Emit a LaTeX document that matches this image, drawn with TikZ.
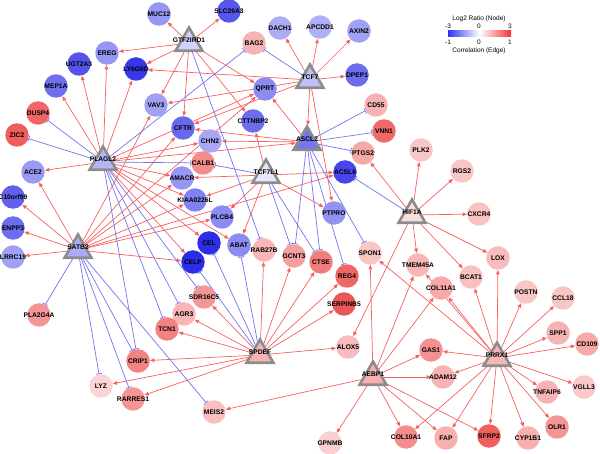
\documentclass[tikz,border=0pt]{standalone}
\usepackage{fontspec}
\setmainfont{Liberation Sans}
\usetikzlibrary{shapes.geometric,arrows.meta}
\pgfdeclarelayer{bg}
\pgfsetlayers{bg,main}
\definecolor{nb}{RGB}{45,45,232}
\definecolor{nr}{RGB}{236,64,64}
\definecolor{edred}{RGB}{248,95,95}
\definecolor{edblue}{RGB}{115,115,238}
\definecolor{hubgray}{RGB}{140,140,140}
\definecolor{lgb}{RGB}{50,50,240}
\definecolor{lgr}{RGB}{245,50,50}
\tikzset{
  gene/.style={circle,minimum size=23.5pt,inner sep=0pt,draw=none},
  hub/.style={regular polygon,regular polygon sides=3,minimum size=31pt,inner sep=0pt,draw=hubgray,line width=2.6pt},
  lbl/.style={font=\fontsize{6.7}{7}\selectfont\bfseries,text=black,inner sep=0pt},
  legt/.style={font=\fontsize{6.5}{7}\selectfont,text=black,inner sep=0pt},
  actline/.style={draw=edred,line width=0.7pt,-{Triangle[length=4.5pt,width=3.6pt]}},
  inhline/.style={draw=edblue,line width=0.7pt,-{Bar[width=6pt]}},
}
\newcommand\mkgene[4]{\node[gene,fill=#4,label={[lbl]center:#1}] (#1) at (#2,#3) {};}
\newcommand\mkhub[4]{\node[hub,fill=#4,label={[lbl,yshift=2.5pt]center:#1}] (#1) at (#2,#3) {};}
\begin{document}
\begin{tikzpicture}[x=1pt,y=-1pt]
\useasboundingbox (0,0) rectangle (600,454);
% genes
\mkgene{MUC12}{159}{14}{nb!50!white}
\mkgene{SLC26A3}{229}{11}{nb!80!white}
\mkgene{DACH1}{280}{28}{nb!40!white}
\mkgene{APCDD1}{320}{27}{nb!38!white}
\mkgene{AXIN2}{359}{31}{nb!45!white}
\mkgene{BAG2}{254}{43}{nr!40!white}
\mkgene{EREG}{107}{53}{nb!50!white}
\mkgene{UGT2A3}{79}{64}{nb!82!white}
\mkgene{LY6G6D}{136}{69}{nb!95!white}
\mkgene{MEP1A}{56}{86}{nb!68!white}
\mkgene{DPEP1}{357}{75}{nb!70!white}
\mkgene{QPRT}{265}{89}{nb!55!white}
\mkgene{VAV3}{156}{105}{nb!45!white}
\mkgene{DUSP4}{38}{113}{nr!80!white}
\mkgene{CD55}{376}{105}{nr!40!white}
\mkgene{ZIC2}{17}{135}{nr!85!white}
\mkgene{CFTR}{183}{128}{nb!72!white}
\mkgene{CTTNBP2}{253}{121}{nb!70!white}
\mkgene{VNN1}{384}{131}{nr!78!white}
\mkgene{CHN2}{210}{141}{nb!42!white}
\mkgene{PTGS2}{363}{153}{nr!45!white}
\mkgene{PLK2}{421}{150}{nr!30!white}
\mkgene{ACE2}{33}{172}{nb!48!white}
\mkgene{CALB1}{203}{163}{nr!60!white}
\mkgene{AMACR}{182}{178}{nb!50!white}
\mkgene{RGS2}{462}{171}{nr!30!white}
\mkgene{ACSL6}{345}{172}{nb!88!white}
\mkgene{KIAA0226L}{195}{200}{nb!60!white}
\mkgene{C10orf99}{13}{197}{nb!75!white}
\mkgene{CXCR4}{479}{214}{nr!32!white}
\mkgene{ENPP3}{13}{228}{nb!70!white}
\mkgene{PLCB4}{222}{217}{nb!55!white}
\mkgene{PTPRO}{334}{213}{nb!52!white}
\mkgene{CEL}{209}{243}{nb}
\mkgene{ABAT}{239}{245}{nb!55!white}
\mkgene{LRRC19}{13}{257}{nb!45!white}
\mkgene{CELP}{193}{262}{nb}
\mkgene{RAB27B}{264}{250}{nr!38!white}
\mkgene{GCNT3}{294}{256}{nr!50!white}
\mkgene{CTSE}{321}{262}{nr!68!white}
\mkgene{SPON1}{370}{253}{nr!30!white}
\mkgene{LOX}{498}{258}{nr!35!white}
\mkgene{TMEM45A}{418}{265}{nr!38!white}
\mkgene{REG4}{347}{276}{nr!80!white}
\mkgene{BCAT1}{471}{277}{nr!33!white}
\mkgene{PLA2G4A}{39}{315}{nr!55!white}
\mkgene{SDR16C5}{204}{297}{nr!55!white}
\mkgene{AGR3}{184}{314}{nr!38!white}
\mkgene{SERPINB5}{344}{304}{nr!88!white}
\mkgene{COL11A1}{441}{288}{nr!45!white}
\mkgene{TCN1}{167}{329}{nr!65!white}
\mkgene{POSTN}{526}{292}{nr!30!white}
\mkgene{CCL18}{563}{298}{nr!30!white}
\mkgene{CRIP1}{138}{361}{nr!65!white}
\mkgene{ALOX5}{348}{347}{nr!35!white}
\mkgene{SPP1}{558}{333}{nr!40!white}
\mkgene{GAS1}{431}{350}{nr!58!white}
\mkgene{CD109}{587}{344}{nr!45!white}
\mkgene{LYZ}{101}{386}{nr!22!white}
\mkgene{RARRES1}{133}{399}{nr!55!white}
\mkgene{MEIS2}{214}{412}{nr!33!white}
\mkgene{ADAM12}{443}{377}{nr!40!white}
\mkgene{TNFAIP6}{547}{392}{nr!40!white}
\mkgene{VGLL3}{584}{387}{nr!28!white}
\mkgene{GPNMB}{330}{443}{nr!25!white}
\mkgene{COL10A1}{406}{437}{nr!60!white}
\mkgene{FAP}{446}{438}{nr!42!white}
\mkgene{SFRP2}{489}{436}{nr!85!white}
\mkgene{CYP1B1}{528}{438}{nr!42!white}
\mkgene{OLR1}{557}{427}{nr!55!white}
% hubs
\mkhub{GTF2IRD1}{189}{43}{nb!22!white}
\mkhub{TCF7}{310}{80}{nb!30!white}
\mkhub{ASCL2}{307}{142}{nb!65!white}
\mkhub{PLAGL2}{103}{162}{nb!35!white}
\mkhub{TCF7L1}{266}{175}{nb!12!white}
\mkhub{SATB2}{78}{250}{nb!40!white}
\mkhub{HIF1A}{412}{215}{nr!18!white}
\mkhub{SPDEF}{260}{355}{nr!40!white}
\mkhub{AEBP1}{373}{377}{nr!42!white}
\mkhub{PRRX1}{497}{358}{nr!38!white}
% legend
\node[legt] (lg1) at (479,19) {Log2 Ratio (Node)};
\node[legt] (lg2) at (448,26.5) {-3};
\node[legt] (lg3) at (479,26.5) {0};
\node[legt] (lg4) at (510,26.5) {3};
\shade[left color=lgb,right color=lgr,middle color=white] (448,31) rectangle (511,37);
\node[legt] (lg5) at (448,42) {-1};
\node[legt] (lg6) at (479,42) {0};
\node[legt] (lg7) at (510,42) {1};
\node[legt] (lg8) at (479,51) {Correlation (Edge)};
% edges
\begin{pgfonlayer}{bg}
\foreach \s/\t in {GTF2IRD1/MUC12,GTF2IRD1/SLC26A3,GTF2IRD1/EREG,GTF2IRD1/LY6G6D,GTF2IRD1/VAV3,GTF2IRD1/CFTR,GTF2IRD1/QPRT,GTF2IRD1/CTTNBP2,
  TCF7/DACH1,TCF7/APCDD1,TCF7/AXIN2,TCF7/DPEP1,TCF7/LY6G6D,TCF7/VAV3,TCF7/CFTR,TCF7/ASCL2,TCF7/PTPRO,
  ASCL2/QPRT,ASCL2/CFTR,ASCL2/CHN2,
  PLAGL2/MEP1A,PLAGL2/UGT2A3,PLAGL2/EREG,PLAGL2/LY6G6D,PLAGL2/QPRT,PLAGL2/ACE2,PLAGL2/CHN2,PLAGL2/AMACR,PLAGL2/KIAA0226L,PLAGL2/CEL,PLAGL2/CELP,PLAGL2/ABAT,PLAGL2/ASCL2,
  SATB2/ACE2,SATB2/C10orf99,SATB2/ENPP3,SATB2/LRRC19,SATB2/VAV3,SATB2/CFTR,SATB2/AMACR,SATB2/KIAA0226L,SATB2/PLCB4,SATB2/CELP,SATB2/ACSL6,SATB2/QPRT,
  TCF7L1/AMACR,TCF7L1/KIAA0226L,TCF7L1/PLCB4,TCF7L1/ABAT,TCF7L1/ACSL6,TCF7L1/PTPRO,TCF7L1/CTTNBP2,
  HIF1A/PLK2,HIF1A/RGS2,HIF1A/CXCR4,HIF1A/LOX,HIF1A/BCAT1,HIF1A/TMEM45A,HIF1A/PTGS2,HIF1A/ALOX5,
  SPDEF/RAB27B,SPDEF/GCNT3,SPDEF/CTSE,SPDEF/REG4,SPDEF/SERPINB5,SPDEF/ALOX5,SPDEF/SDR16C5,SPDEF/AGR3,SPDEF/TCN1,SPDEF/CRIP1,SPDEF/LYZ,SPDEF/RARRES1,
  AEBP1/MEIS2,AEBP1/GPNMB,AEBP1/COL10A1,AEBP1/SPON1,AEBP1/TMEM45A,AEBP1/COL11A1,AEBP1/GAS1,AEBP1/ADAM12,AEBP1/FAP,AEBP1/SFRP2,
  PRRX1/POSTN,PRRX1/CCL18,PRRX1/SPP1,PRRX1/CD109,PRRX1/VGLL3,PRRX1/TNFAIP6,PRRX1/OLR1,PRRX1/CYP1B1,PRRX1/SFRP2,PRRX1/FAP,PRRX1/COL10A1,PRRX1/ADAM12,PRRX1/GAS1,PRRX1/BCAT1,PRRX1/LOX,PRRX1/COL11A1,PRRX1/SPON1,PRRX1/TMEM45A}
  {\draw[actline] (\s) -- (\t);}
\foreach \s/\t in {GTF2IRD1/RAB27B,TCF7/BAG2,
  ASCL2/CD55,ASCL2/VNN1,ASCL2/PTGS2,ASCL2/GCNT3,ASCL2/CTSE,ASCL2/REG4,ASCL2/SPON1,
  PLAGL2/DUSP4,PLAGL2/ZIC2,PLAGL2/BAG2,PLAGL2/CALB1,PLAGL2/CRIP1,PLAGL2/TCN1,PLAGL2/AGR3,PLAGL2/SDR16C5,
  SATB2/PLA2G4A,SATB2/LYZ,SATB2/RARRES1,SATB2/CRIP1,SATB2/MEIS2,
  TCF7L1/CALB1,TCF7L1/CTSE,TCF7L1/GCNT3,
  HIF1A/ACSL6,
  SPDEF/CEL,SPDEF/CELP,SPDEF/ABAT}
  {\draw[inhline] (\s) -- (\t);}
\end{pgfonlayer}
\end{tikzpicture}
\end{document}
